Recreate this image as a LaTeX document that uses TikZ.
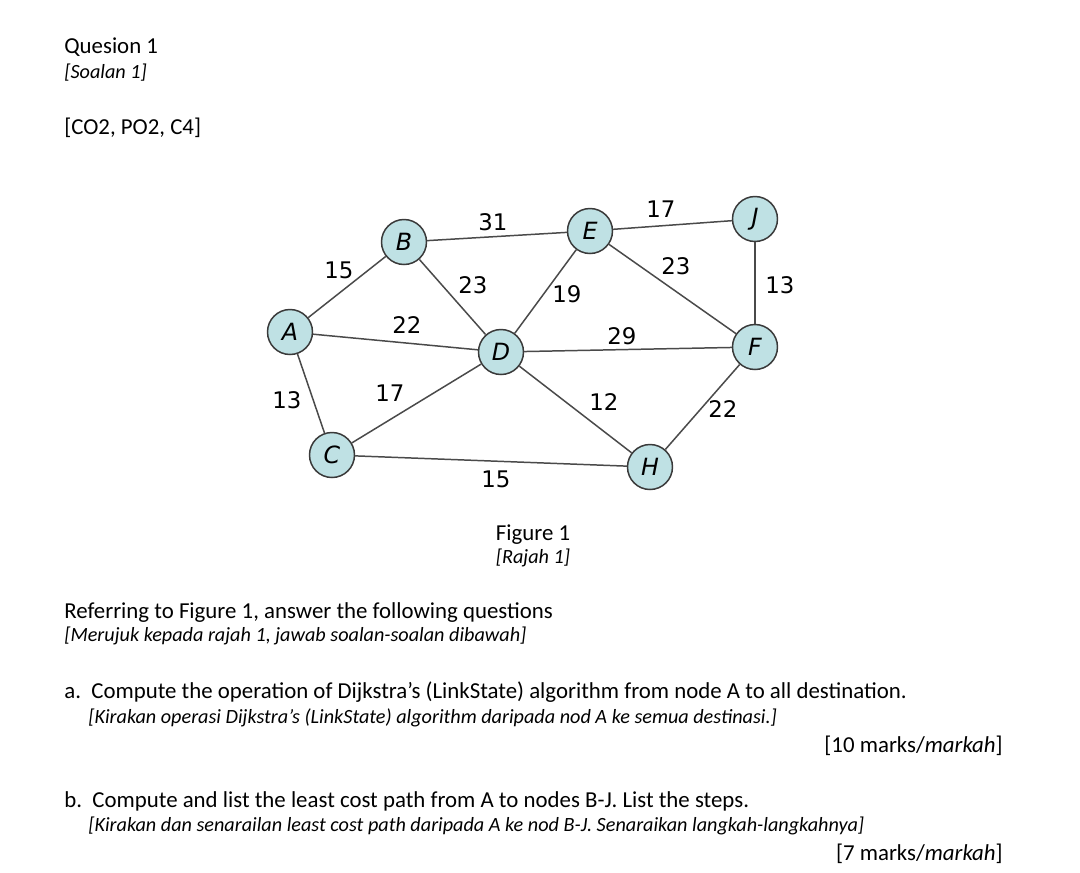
\documentclass[tikz,border=0pt]{standalone}
\usepackage{fontspec}
\setmainfont{Carlito}
\newfontfamily\graphfont{DejaVu Sans}
\usetikzlibrary{positioning}
\definecolor{vfill}{HTML}{BFE1E4}
\definecolor{vline}{HTML}{3A3A3A}
\definecolor{eline}{HTML}{4A4A4A}
\tikzset{
  vtx/.style={circle,draw=vline,line width=0.85pt,fill=vfill,minimum size=0.9cm,inner sep=0pt,font=\graphfont\itshape\fontsize{13.5}{13.5}\selectfont},
  wt/.style={font=\graphfont\fontsize{13}{13}\selectfont,inner sep=0pt},
  lnk/.style={draw=eline,line width=0.85pt},
  txt/.style={anchor=base west,inner sep=0pt,font=\fontsize{13}{15}\selectfont},
  itx/.style={anchor=base west,inner sep=0pt,font=\itshape\fontsize{11.5}{13}\selectfont},
}
\begin{document}
\begin{tikzpicture}[x=0.02cm,y=-0.02cm]
\fill[white] (0,0) rectangle (1080,873);
% heading
\node[txt] (q1) at (64,53) {Quesion 1};
\node[itx] (q1m) at (64,78) {[Soalan 1]};
\node[txt] (co) at (64,134) {[CO2, PO2, C4]};
% graph
\foreach \n/\x/\y in {A/290/332,B/404/242,C/332/455,D/501/352,E/590/231,J/755/219,F/755/347,H/650/467}
  \node[vtx] (\n) at (\x,\y) {\n};
\foreach \u/\v in {A/B,A/D,A/C,B/E,B/D,E/D,E/J,E/F,J/F,D/F,C/D,D/H,C/H,H/F}
  \draw[lnk] (\u)--(\v);
\foreach \w/\x/\y/\t in {ab/339/270/15,be/493/222/31,ej/661/209/17,bd/473/285/23,ed/567/294/19,ef/676/266/23,jf/780/285/13,ad/407/325/22,df/622/336/29,ac/287/400/13,cd/390/393/17,dh/604/402/12,fh/723/409/22,ch/496/479/15}
  \node[wt] (w\w) at (\x,\y) {\t};
% caption
\node[txt,anchor=base] (fig) at (533,540) {Figure 1};
\node[itx,anchor=base] (figm) at (533,563) {[Rajah 1]};
% questions
\node[txt] (ref) at (64,618) {Referring to Figure 1, answer the following questions};
\node[itx] (refm) at (64,641) {[Merujuk kepada rajah 1, jawab soalan-soalan dibawah]};
\node[txt] (qa) at (64,698) {a.\ \ Compute the operation of Dijkstra’s (LinkState) algorithm from node A to all destination.};
\node[itx] (qam) at (88,723) {[Kirakan operasi Dijkstra’s (LinkState) algorithm daripada nod A ke semua destinasi.]};
\node[txt,anchor=base east] (ma) at (1003,752) {[10 marks/\textit{markah}]};
\node[txt] (qb) at (64,807) {b.\ \ Compute and list the least cost path from A to nodes B-J. List the steps.};
\node[itx] (qbm) at (88,831) {[Kirakan dan senarailan least cost path daripada A ke nod B-J. Senaraikan langkah-langkahnya]};
\node[txt,anchor=base east] (mb) at (1003,860) {[7 marks/\textit{markah}]};
\end{tikzpicture}
\end{document}
